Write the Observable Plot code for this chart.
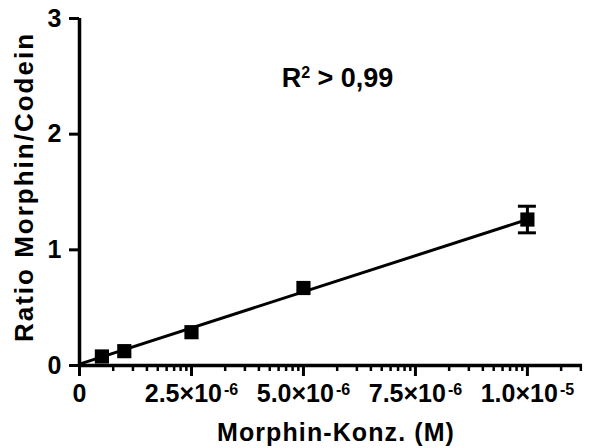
<!DOCTYPE html>
<html><head><meta charset="utf-8">
<script src="https://cdn.jsdelivr.net/npm/d3@7"></script>
<script src="https://cdn.jsdelivr.net/npm/@observablehq/plot@0.6"></script>
<style>html,body{margin:0;padding:0;background:#fff;}</style>
</head><body><div id="chart"></div>
<script>
// Data
const concentrations = [0.5e-6, 1e-6, 2.5e-6, 5e-6, 1e-5];
const ratios = [0.078, 0.124, 0.288, 0.670, 1.262];
const errors = [0, 0, 0, 0, 0.115];
const fitX = [0, 1e-5];
const fitY = [0.012, 1.262];
const xMajorTicks = [0, 2.5e-6, 5e-6, 7.5e-6, 1e-5];
const xTickLabels = ["0", "2.5×10^-6", "5.0×10^-6", "7.5×10^-6", "1.0×10^-5"];
const yTicks = [0, 1, 2, 3];
const minorSteps = [2, 3, 4, 5, 6, 7, 8, 9];
const xDomain = [0, 1.123e-5];
const yDomain = [0, 3];
const xTitle = "Morphin-Konz. (M)";
const yTitle = "Ratio Morphin/Codein";
const annotation = "R^2 > 0,99";
const annotationPos = [5.76e-6, 2.41];

const points = concentrations.map((c, i) => ({x: c, y: ratios[i], err: errors[i]}));
const fit = fitX.map((x, i) => ({x, y: fitY[i]}));
const bars = points.filter(d => d.err > 0);
const minorTicks = xMajorTicks.flatMap(t => minorSteps.map(m => t + 2.5e-6 * Math.log10(m))).filter(v => v <= xDomain[1]);

const font = "'Liberation Sans', Arial, Helvetica, sans-serif";

const plot = Plot.plot({
  width: 598, height: 448,
  marginLeft: 79, marginRight: 16, marginTop: 18, marginBottom: 83,
  x: {domain: xDomain},
  y: {domain: yDomain},
  style: {fontFamily: font, fontWeight: "bold", fontSize: "25px", background: "white", color: "black"},
  marks: [
    Plot.axisY({ticks: yTicks, tickSize: 10, tickPadding: 8, strokeWidth: 3, fontSize: 25, tickFormat: d => String(d), label: null}),
    Plot.axisX({ticks: minorTicks, tickSize: 6, strokeWidth: 2.5, tickFormat: () => "", label: null}),
    Plot.axisX({ticks: xMajorTicks, tickSize: 11, tickPadding: 8, strokeWidth: 3, fontSize: 25,
      tickFormat: d => xTickLabels[xMajorTicks.indexOf(d)], label: null}),
    Plot.ruleX([0], {y1: yDomain[0], y2: yDomain[1], strokeWidth: 3.5}),
    Plot.ruleY([0], {x1: xDomain[0], x2: xDomain[1], strokeWidth: 3.5}),
    Plot.line(fit, {x: "x", y: "y", strokeWidth: 3, stroke: "black"}),
    Plot.ruleX(bars, {x: "x", y1: d => d.y - d.err, y2: d => d.y + d.err, strokeWidth: 3}),
    Plot.ruleY(bars, {y: d => d.y + d.err, x1: "x", x2: "x", insetLeft: -9, insetRight: -9, strokeWidth: 3}),
    Plot.ruleY(bars, {y: d => d.y - d.err, x1: "x", x2: "x", insetLeft: -9, insetRight: -9, strokeWidth: 3}),
    Plot.dot(points, {x: "x", y: "y", symbol: "square", r: 8, fill: "black", stroke: "none"}),
    Plot.text([annotation], {x: annotationPos[0], y: annotationPos[1], text: d => d, fontSize: 27, fontWeight: "bold", lineAnchor: "bottom"}),
    Plot.text([xTitle], {frameAnchor: "bottom", text: d => d, dx: 5, dy: 75, lineAnchor: "bottom", fontSize: 25, fontWeight: "bold"}),
    Plot.text([yTitle], {frameAnchor: "left", text: d => d, rotate: -90, textAnchor: "middle", dx: -47, dy: -5, lineAnchor: "bottom", fontSize: 26, fontWeight: "bold"})
  ]
});

// superscripts, explicit font sizes, letter spacing on titles
d3.select(plot).selectAll('g[aria-label$="tick label"] text').style("font-size", "25px");
d3.select(plot).selectAll("text").each(function() {
  const t = this.textContent;
  if (t.includes("^")) {
    const [base, exp] = t.split("^");
    const isAnno = t.startsWith("R");
    const sel = d3.select(this);
    sel.text(null);
    sel.append("tspan").text(base);
    if (isAnno) {
      const [e, ...others] = exp.split(" ");
      sel.append("tspan").attr("dy", -9).attr("font-size", 16).text(e);
      sel.append("tspan").attr("dy", 9).text(" " + others.join(" "));
    } else {
      sel.append("tspan").attr("dx", 2).attr("dy", -7).attr("font-size", 16).text(exp);
    }
  } else if (t === xTitle) {
    d3.select(this).style("letter-spacing", "1.1px");
  } else if (t === yTitle) {
    d3.select(this).style("letter-spacing", "2px");
  }
});

document.getElementById("chart").appendChild(plot);
</script>
</body></html>
